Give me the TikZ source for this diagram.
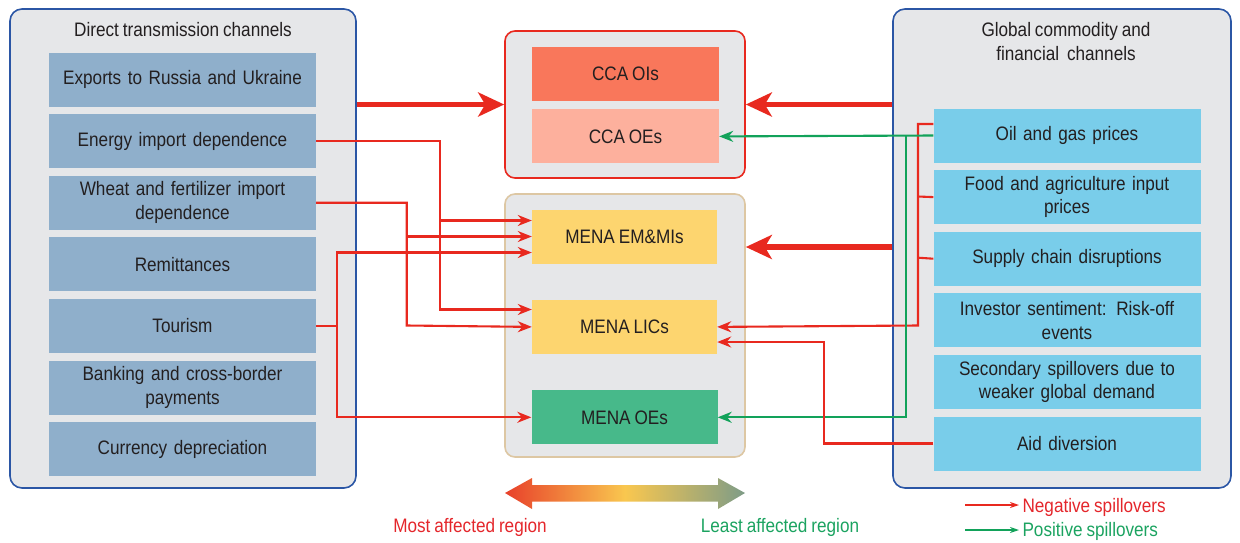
\documentclass[tikz,border=0pt]{standalone}
\usepackage{fontspec}
\setmainfont[FakeStretch=0.88, WordSpace=0.82]{Liberation Sans}
\usepackage{tikz}
\usetikzlibrary{positioning}
\usetikzlibrary{arrows.meta}

\definecolor{panelgray}{HTML}{E6E7E9}
\definecolor{panelblue}{HTML}{2B56A5}
\definecolor{lboxblue}{HTML}{8FAFCB}
\definecolor{rboxblue}{HTML}{79CDEA}
\definecolor{ccaoicol}{HTML}{F9775B}
\definecolor{ccaoecol}{HTML}{FDB09D}
\definecolor{menayel}{HTML}{FDD56F}
\definecolor{menagrn}{HTML}{47B98A}
\definecolor{negred}{HTML}{E8291F}
\definecolor{posgrn}{HTML}{12A25A}
\definecolor{grptan}{HTML}{DDC7A3}
\definecolor{txtdark}{HTML}{231F20}
\definecolor{labred}{HTML}{E4262B}
\definecolor{labgrn}{HTML}{1BA360}
\definecolor{shadered}{HTML}{E8402A}
\definecolor{shadegray}{HTML}{7E9C87}
\definecolor{shadeyel}{HTML}{F9C74F}

\begin{document}
\begin{tikzpicture}[
  x=1pt, y=-1pt,
  node distance=7.2pt,
  every node/.style={font=\fontsize{19.5}{23.5}\selectfont, text=txtdark},
  panel/.style={
    draw=panelblue, line width=1.6pt, fill=panelgray,
    rounded corners=12pt, minimum height=479pt
  },
  lbox/.style={
    fill=lboxblue, inner sep=0pt,
    text width=265pt, align=center,
    minimum width=267pt, minimum height=54pt
  },
  rbox/.style={lbox, fill=rboxblue},
  grp/.style={
    line width=1.6pt, fill=panelgray, rounded corners=10pt,
    minimum width=240pt
  },
  cbox/.style={
    inner sep=0pt, minimum width=187pt, minimum height=54pt
  },
  bigarrow/.style={
    draw=negred, line width=5.5pt,
    -{Stealth[length=26pt, width=24pt, inset=7pt]}
  },
  negarrow/.style={draw=negred, line width=2.1pt, -{Stealth[length=14pt, width=11pt]}},
  negline/.style={draw=negred, line width=2.1pt},
  posarrow/.style={draw=posgrn, line width=2.1pt, -{Stealth[length=14pt, width=11pt]}},
  legarrow/.style={line width=1.5pt, -{Stealth[length=9pt, width=6pt]}}
]
\useasboundingbox (0,0) rectangle (1240,542);

% Panels
\node[panel, minimum width=346pt] (lpanel) at (183,248.5) {};
\node[panel, minimum width=338pt] (rpanel) at (1062,248.5) {};
\node (ltitle) at (183,30) {Direct transmission channels};
\node[align=center, font=\fontsize{19.5}{24}\selectfont] (rtitle) at (1066,42)
  {Global commodity and\\financial\ \ channels};

% Direct channels
\node[lbox] (lb1) at (182.5,79.5) {Exports to Russia and Ukraine};
\node[lbox, below=of lb1] (lb2) {Energy import dependence};
\node[lbox, below=of lb2] (lb3) {Wheat and fertilizer import\\dependence};
\node[lbox, below=of lb3] (lb4) {Remittances};
\node[lbox, below=of lb4] (lb5) {Tourism};
\node[lbox, below=of lb5] (lb6) {Banking and cross-border\\payments};
\node[lbox, below=of lb6] (lb7) {Currency depreciation};

% Global channels
\node[rbox] (rb1) at (1067,135.5) {Oil and gas prices};
\node[rbox, below=of rb1] (rb2) {Food and agriculture input\\prices};
\node[rbox, below=of rb2] (rb3) {Supply chain disruptions};
\node[rbox, below=of rb3] (rb4) {Investor sentiment: Risk-off\\events};
\node[rbox, below=of rb4] (rb5) {Secondary spillovers due to\\weaker global demand};
\node[rbox, below=of rb5] (rb6) {Aid diversion};

% Regions
\node[grp, draw=negred, minimum height=147pt] (ccagrp) at (625,104.5) {};
\node[cbox, fill=ccaoicol] (ccaoi) at (625.5,74) {CCA OIs};
\node[cbox, fill=ccaoecol, below=8pt of ccaoi] (ccaoe) {CCA OEs};
\node[grp, draw=grptan, minimum height=263pt] (menagrp) at (625,325.5) {};
\node[cbox, fill=menayel, minimum width=185pt] (menaem) at (624.5,236.5) {MENA EM\&MIs};
\node[cbox, fill=menayel, minimum width=185pt, below=36pt of menaem] (menalic) {MENA LICs};
\node[cbox, fill=menagrn, minimum width=186pt, below=36pt of menalic] (menaoe) {MENA OEs};

% Thick arrows
\draw[bigarrow] (lpanel.east |- ccagrp.west) -- (ccagrp.west);
\draw[bigarrow] (rpanel.west |- ccagrp.east) -- (ccagrp.east);
\draw[bigarrow] (rpanel.west |- 0,247) -- (menagrp.east |- 0,247);

% Left spillovers
\draw[negarrow] (lb2.east) -| (440,309.5) -- (menalic.west |- 0,309.5);
\draw[negarrow] (440,220.5) -- (menaem.west |- 0,220.5);
\draw[negarrow] (lb3.east) -| (406.7,325.5) -- (menalic.west);
\draw[negarrow] (406.7,236.5) -- (menaem.west);
\draw[negarrow] (lb5.east) -| (336.7,252.5) -- (menaem.west |- 0,252.5);
\draw[negarrow] (336.7,323.5) |- (menaoe.west);

% Right spillovers
\draw[negarrow] (rb1.west |- 0,124) -| (918,325.5) -- (menalic.east);
\draw[negline] (rb2.west) -- (918,196.5);
\draw[negline] (rb3.west) -- (918,257.7);
\draw[posarrow] (rb1.west) -- (ccaoe.east);
\draw[posarrow] (906,135.5) |- (menaoe.east);
\draw[negarrow] (rb6.west) -| (824,342) -- (menalic.east |- 0,342);

% Scale
\shade[left color=shadered, right color=shadegray, middle color=shadeyel]
  (505,493) -- (532,478) -- (532,485) -- (718,485) -- (718,478) -- (745,493)
  -- (718,509) -- (718,501.5) -- (532,501.5) -- (532,509) -- cycle;
\node[text=labred] (most) at (470,527) {Most affected region};
\node[text=labgrn] (least) at (780,527) {Least affected region};

% Legend
\node[text=labred, anchor=west] (negtxt) at (1019,507) {Negative spillovers};
\node[text=labgrn, anchor=west] (postxt) at (1019,531) {Positive spillovers};
\coordinate (negstart) at (965,505);
\coordinate (posstart) at (965,530);
\draw[legarrow, draw=negred] (negstart) -- (negtxt.west |- negstart);
\draw[legarrow, draw=posgrn] (posstart) -- (postxt.west |- posstart);
\end{tikzpicture}
\end{document}
